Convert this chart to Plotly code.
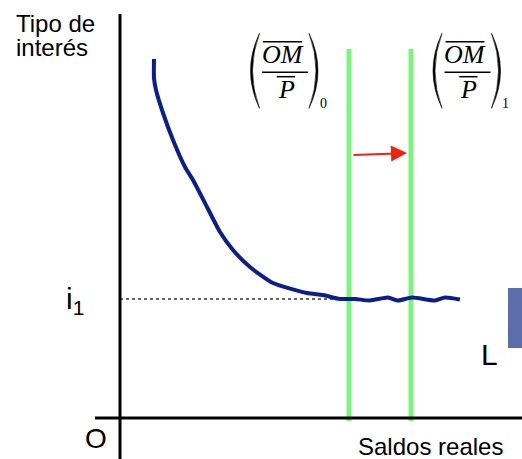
import plotly.graph_objects as go

# Money demand curve L (schematic), 1 unit = 10 px
curve_x = [3.4, 3.4, 3.6, 4.3, 5.3, 6.5, 7.3, 8.7, 10.0, 11.3, 13.0, 15.3, 18.7,
           20.3, 22.0, 23.5, 25.0, 26.8, 27.8, 29.2, 31.5, 32.5, 34.0]
curve_y = [35.9, 34.0, 32.8, 30.5, 27.8, 25.1, 23.8, 21.1, 18.6, 16.8, 15.1, 13.5, 12.5,
           12.3, 11.9, 11.9, 11.75, 12.05, 11.75, 12.05, 11.75, 12.05, 11.85]

# Real money supply (OM/P)_0 and (OM/P)_1
supply_x = [22.9, 29.1]
supply_top = 36.9
i1 = 11.9
i1_end = 22.0

x_range = [-12.0, 40.2]
y_range = [-4.1, 41.8]

serif = "Liberation Serif, Times New Roman, serif"
sans = "Liberation Sans, Arial, Helvetica, sans-serif"

fig = go.Figure()

# dotted reference line at i1
fig.add_trace(go.Scatter(x=[0, i1_end], y=[i1, i1], mode="lines",
                         line=dict(color="#333333", width=1.3, dash="dot"),
                         hoverinfo="skip"))

# vertical supply lines
for sx in supply_x:
    fig.add_trace(go.Scatter(x=[sx, sx], y=[-0.3, supply_top], mode="lines",
                             line=dict(color="#7DF57D", width=5), hoverinfo="skip"))

# L curve
fig.add_trace(go.Scatter(x=curve_x, y=curve_y, mode="lines",
                         line=dict(color="#0B1E8E", width=4, shape="spline", smoothing=0.6),
                         hoverinfo="skip"))

shapes = []
# axes
shapes.append(dict(type="line", xref="x", yref="y", x0=0, x1=0, y0=-5, y1=40.4,
                   line=dict(color="black", width=3)))
shapes.append(dict(type="line", xref="x", yref="y", x0=-2.5, x1=41, y0=0, y1=0,
                   line=dict(color="black", width=3)))
# blue block at right edge
shapes.append(dict(type="rect", xref="x", yref="y", x0=38.8, x1=41, y0=7.0, y1=13.0,
                   fillcolor="#5D6DAB", line=dict(width=0)))


def paren(xt, bulge_out, bulge_in, yt=38.47, yb=30.97):
    ym = (yt + yb) / 2
    return (f"M {xt},{yt} Q {bulge_out},{ym} {xt},{yb} "
            f"Q {bulge_in},{ym} {xt},{yt} Z")


annotations = []
for k, dx in enumerate([0.0, 18.25]):
    # parentheses
    shapes.append(dict(type="path", xref="x", yref="y",
                       path=paren(13.95 + dx, 12.15 + dx, 12.55 + dx),
                       fillcolor="black", line=dict(width=0.6, color="black")))
    shapes.append(dict(type="path", xref="x", yref="y",
                       path=paren(18.9 + dx, 20.7 + dx, 20.3 + dx),
                       fillcolor="black", line=dict(width=0.6, color="black")))
    # overlines and fraction bar
    for x0, x1, yy in [(14.3, 18.2, 37.63), (14.2, 18.8, 34.57), (15.67, 17.5, 34.13)]:
        shapes.append(dict(type="line", xref="x", yref="y", x0=x0 + dx, x1=x1 + dx,
                           y0=yy, y1=yy, line=dict(color="black", width=1.5)))
    annotations.append(dict(x=16.25 + dx, y=36.4, text="<i>OM</i>", showarrow=False,
                            xanchor="center", yanchor="middle",
                            font=dict(family=serif, size=26, color="black")))
    annotations.append(dict(x=16.6 + dx, y=32.9, text="<i>P</i>", showarrow=False,
                            xanchor="center", yanchor="middle",
                            font=dict(family=serif, size=26, color="black")))
    annotations.append(dict(x=20.3 + dx, y=31.5, text=str(k), showarrow=False,
                            xanchor="center", yanchor="middle",
                            font=dict(family=serif, size=14, color="black")))

# shift arrow
annotations.append(dict(x=28.7, y=26.5, ax=23.2, ay=26.3, axref="x", ayref="y",
                        text="", showarrow=True, arrowhead=2, arrowsize=1.6,
                        arrowwidth=2, arrowcolor="#EE2211", standoff=0))

# text labels
labels = [
    ("Tipo de", -10.6, 39.45, "left", 24),
    ("interés", -10.6, 37.1, "left", 24),
    ("i<sub>1</sub>", -5.6, 11.8, "left", 30),
    ("L", 36.9, 6.4, "center", 30),
    ("O", -2.4, -2.0, "center", 28),
    ("Saldos reales", 31.0, -2.8, "center", 24),
]
for txt, lx, ly, anchor, size in labels:
    annotations.append(dict(x=lx, y=ly, text=txt, showarrow=False,
                            xanchor=anchor, yanchor="middle",
                            font=dict(family=sans, size=size, color="black")))

fig.update_layout(
    width=522, height=459,
    margin=dict(l=0, r=0, t=0, b=0),
    paper_bgcolor="white", plot_bgcolor="white",
    showlegend=False,
    xaxis=dict(range=x_range, visible=False, fixedrange=True),
    yaxis=dict(range=y_range, visible=False, fixedrange=True),
    shapes=shapes,
    annotations=annotations,
)

# drop the default page margin so the figure fills the window exactly
fig.write_html("out.html", config={"displayModeBar": False},
               post_script="document.body.style.margin='0';document.body.style.overflow='hidden';")
